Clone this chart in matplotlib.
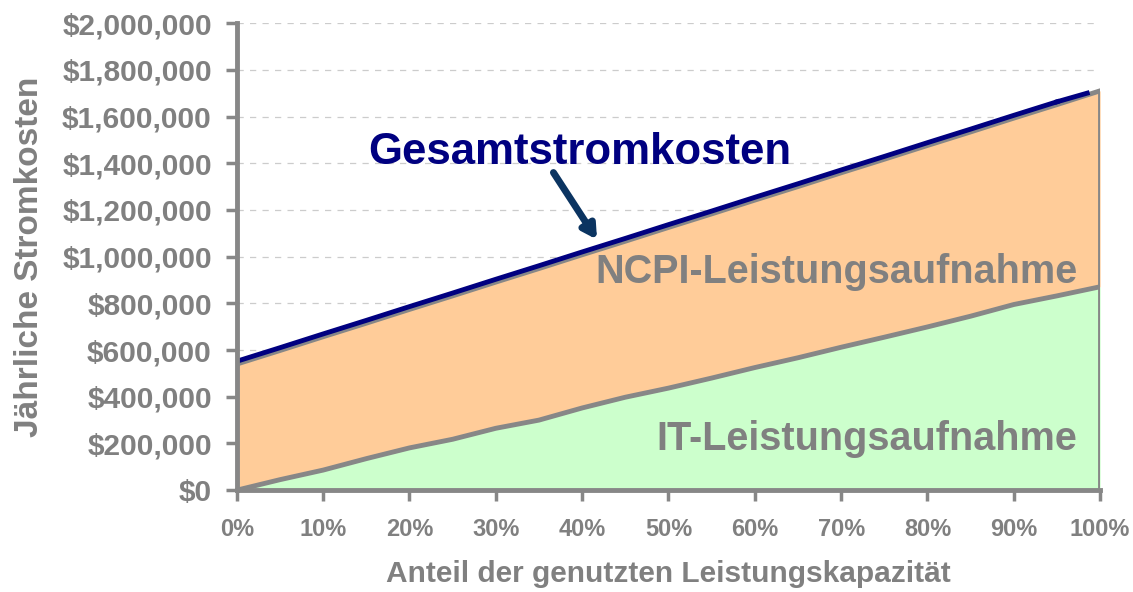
import matplotlib
matplotlib.use('Agg')
import matplotlib.pyplot as plt
from matplotlib.ticker import FuncFormatter, MultipleLocator
import numpy as np

plt.rcParams['font.family'] = ['Liberation Sans', 'DejaVu Sans']

# auslastung in %
anteil = [0, 5, 10, 15, 20, 25, 30, 35, 40, 45, 50,
          55, 60, 65, 70, 75, 80, 85, 90, 95, 100]
# IT-Leistungsaufnahme ($)
it_kosten = [0, 45e3, 86e3, 135e3, 181e3, 218e3, 265e3, 300e3, 352e3, 398e3, 437e3,
             480e3, 525e3, 567e3, 612e3, 655e3, 699e3, 745e3, 795e3, 832e3, 871e3]
# NCPI-Leistungsaufnahme ($), gestapelt auf IT
ncpi_kosten = [540e3, 553e3, 571e3, 580e3, 593e3, 614e3, 626e3, 649e3, 656e3, 668e3, 688e3,
               703e3, 717e3, 733e3, 747e3, 762e3, 777e3, 789e3, 798e3, 819e3, 839e3]

GRAY = '#878787'
TXT = '#808080'

x = np.array(anteil)
it = np.array(it_kosten)
total = it + np.array(ncpi_kosten)

fig = plt.figure(figsize=(11.33, 5.92), dpi=100)
ax = fig.add_axes([0.209, 0.172, 0.762, 0.789])

ax.fill_between(x, 0, it, color='#CCFFCC', lw=0, zorder=2)
ax.fill_between(x, it, total, color='#FFCC99', lw=0, zorder=2)
ax.plot(x, it, color=GRAY, lw=3.5, zorder=3)
ax.plot(x, total, color=GRAY, lw=3.5, zorder=3)
ax.plot([100, 100], [0, total[-1]], color=GRAY, lw=3.5, zorder=3)
# Gesamtlinie (endet kurz vor 100%)
ax.plot(x[:-1], total[:-1] + 12e3, color='#000080', lw=3.5, zorder=4)
ax.plot([95, 98.5], [total[-2] + 12e3, total[-1] - 10e3], color='#000080', lw=3.5, zorder=4)

ax.set_xlim(0, 100)
ax.set_ylim(0, 2e6)
ax.xaxis.set_major_locator(MultipleLocator(10))
ax.yaxis.set_major_locator(MultipleLocator(2e5))
ax.xaxis.set_major_formatter(FuncFormatter(lambda v, p: f'{int(v)}%'))
ax.yaxis.set_major_formatter(FuncFormatter(lambda v, p: f'${int(v):,}'))

ax.grid(axis='y', color='#cccccc', ls=(0, (5, 5)), lw=0.9, zorder=0)
for s in ['top', 'right']:
    ax.spines[s].set_visible(False)
for s in ['left', 'bottom']:
    ax.spines[s].set_color(GRAY)
    ax.spines[s].set_linewidth(3.5)
    ax.spines[s].set_zorder(5)
ax.tick_params(axis='both', colors=GRAY, width=2.5, length=8, direction='out')
ax.tick_params(axis='y', labelsize=21.5, labelcolor=TXT, pad=10)
ax.tick_params(axis='x', labelsize=17, labelcolor=TXT, pad=12)
for lbl in ax.get_xticklabels() + ax.get_yticklabels():
    lbl.set_fontweight('bold')

ax.set_xlabel('Anteil der genutzten Leistungskapazität', fontsize=21.5, fontweight='bold',
              color=TXT, labelpad=14)
ax.set_ylabel('Jährliche Stromkosten', fontsize=24, fontweight='bold', color=TXT, labelpad=12)

ax.text(15.2, 1.447e6, 'Gesamtstromkosten', fontsize=31.5, fontweight='bold',
        color='#000080', ha='left', va='center', zorder=6)
ax.annotate('', xy=(41.9, 1.063e6), xytext=(36.5, 1.37e6),
            arrowprops=dict(arrowstyle='-|>,head_length=0.8,head_width=0.45',
                            color='#0B3461', lw=5), zorder=6)
ax.text(97.4, 0.936e6, 'NCPI-Leistungsaufnahme', fontsize=28.5, fontweight='bold',
        color=TXT, ha='right', va='center', zorder=6)
ax.text(97.4, 0.219e6, 'IT-Leistungsaufnahme', fontsize=28.5, fontweight='bold',
        color=TXT, ha='right', va='center', zorder=6)

fig.savefig('out.png', dpi=100, facecolor='white')
